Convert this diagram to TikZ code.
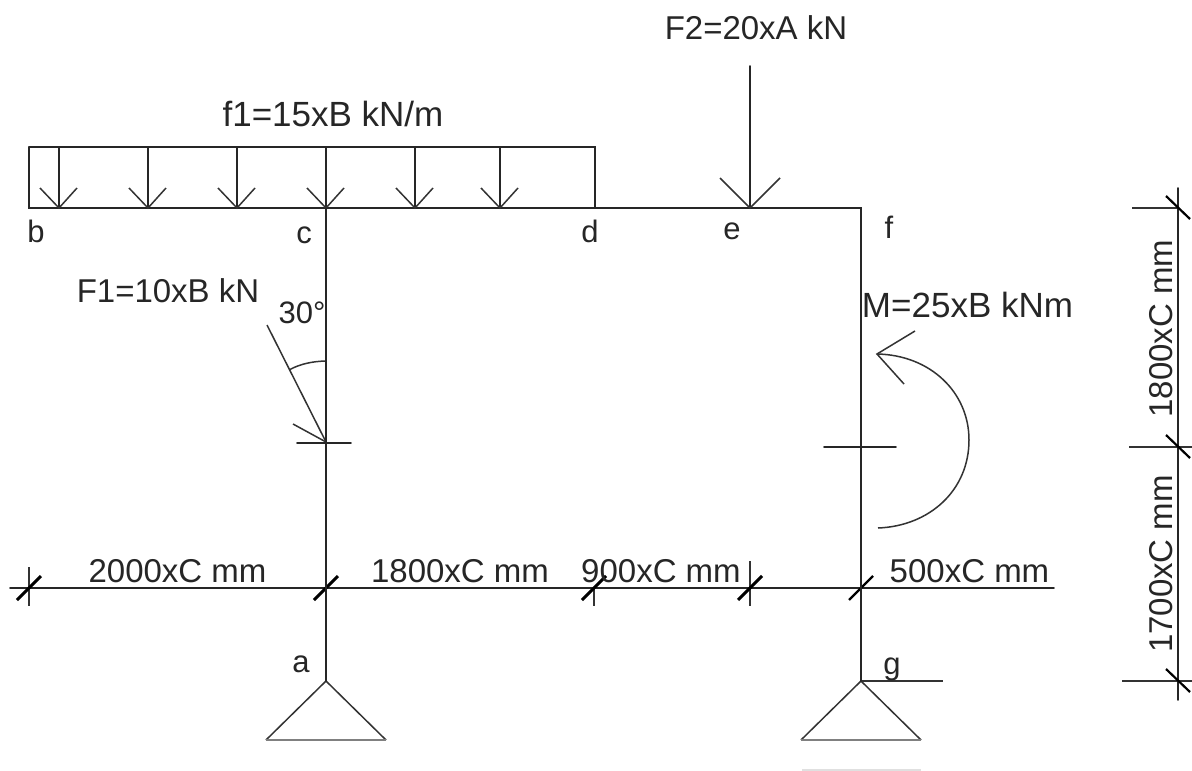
\documentclass[tikz,border=0pt]{standalone}
\usepackage{fontspec}
\setmainfont{Liberation Sans}
\tikzset{
  member/.style={draw=black!85,line width=1.9pt,line cap=round},
  thinline/.style={draw=black!80,line width=1.5pt},
  slash/.style={draw=black,line width=3pt},
  slashthin/.style={draw=black,line width=2.2pt},
  lbl/.style={font=\fontsize{33}{35}\selectfont,text=black!85,inner sep=0pt,anchor=center},
  lblbig/.style={lbl,font=\fontsize{35}{37}\selectfont},
  lblsmall/.style={lbl,font=\fontsize{31}{33}\selectfont},
  pt/.style={coordinate}
}
\begin{document}
\begin{tikzpicture}[x=1pt,y=-1pt]
\useasboundingbox (0,0) rectangle (1192,771);
\fill[white] (0,0) rectangle (1192,771);
% frame points
\coordinate (bt) at (29,147);
\coordinate (dt) at (595,147);
\coordinate (b) at (29,208);
\coordinate (c) at (326,208);
\coordinate (d) at (595,208);
\coordinate (e) at (750,208);
\coordinate (f) at (861,208);
\coordinate (a) at (326,681);
\coordinate (g) at (861,681);
\coordinate (gr) at (943,681);
% frame
\draw[member] (bt) -- (dt) -- (d);
\draw[member] (bt) -- (b) -- (f) -- (g);
\draw[member] (c) -- (a);
\draw[thinline] (g) -- (gr);
% supports
\foreach \n/\x in {sa/326,sg/861}{
  \coordinate (\n l) at (\x-60,740);
  \coordinate (\n r) at (\x+60,740);
  \coordinate (\n t) at (\x,681);
  \draw[thinline] (\n l) -- (\n t) -- (\n r);
  \draw[draw=black!50,line width=2pt] (\n l) -- (\n r);
}
% distributed load
\foreach \x in {59,148,237,326,415,500}{
  \coordinate (lt\x) at (\x,147);
  \coordinate (lb\x) at (\x,208);
  \coordinate (la\x) at (\x-19,188);
  \coordinate (lc\x) at (\x+18,188);
  \draw[member] (lt\x) -- (lb\x);
  \draw[thinline] (la\x) -- (lb\x) -- (lc\x);
}
% F2
\coordinate (f2t) at (750,66);
\coordinate (f2a) at (720,178);
\coordinate (f2b) at (780,178);
\draw[member] (f2t) -- (e);
\draw[thinline] (f2a) -- (e) -- (f2b);
% F1
\coordinate (f1s) at (267,325);
\coordinate (f1p) at (326,442);
\coordinate (f1b) at (293,424);
\coordinate (f1l) at (297,443);
\coordinate (f1r) at (351,443);
\draw[thinline] (f1s) -- (f1p);
\draw[thinline] (f1b) -- (f1p);
\draw[member] (f1l) -- (f1r);
\draw[thinline] (290,369.5) .. controls (300,364) and (312,361.5) .. (325,361);
% moment
\coordinate (mc1) at (824,447);
\coordinate (mc2) at (896,447);
\coordinate (ms) at (878,528);
\coordinate (mm) at (969,440);
\coordinate (mp) at (877,354);
\coordinate (mb1) at (915,331);
\coordinate (mb2) at (904,384);
\draw[member] (mc1) -- (mc2);
\draw[thinline] (ms) .. controls (930,526) and (969,490) .. (mm) .. controls (969,392) and (930,355) .. (mp);
\draw[thinline] (mb1) -- (mp) -- (mb2);
% horizontal dimension
\coordinate (hs) at (10,588);
\coordinate (he) at (1054,588);
\draw[member] (hs) -- (he);
\foreach \x/\top/\st in {29/567/slash,326/588/slash,594/588/slash,750/561/slash,861/588/slashthin}{
  \coordinate (ht\x) at (\x,\top);
  \coordinate (hb\x) at (\x,606);
  \coordinate (sa\x) at (\x-12,600);
  \coordinate (sb\x) at (\x+12,576);
  \draw[thinline] (ht\x) -- (hb\x);
  \draw[\st] (sa\x) -- (sb\x);
}
% redraw columns over the dimension witness stubs
\draw[member] (c) -- (a);
\draw[member] (f) -- (g);
% vertical dimension
\coordinate (vs) at (1178,188);
\coordinate (ve) at (1178,700);
\draw[member] (vs) -- (ve);
\foreach \y/\l/\r in {208/1132/1178,447/1129/1192,681/1122/1192}{
  \coordinate (wl\y) at (\l,\y);
  \coordinate (wr\y) at (\r,\y);
  \coordinate (su\y) at (1166,\y-12);
  \coordinate (sv\y) at (1190,\y+11);
  \draw[thinline] (wl\y) -- (wr\y);
  \draw[slashthin] (su\y) -- (sv\y);
}
% faint edge at the bottom
\coordinate (fa) at (802,770);
\coordinate (fb) at (921,770);
\draw[draw=black!12,line width=1.5pt] (fa) -- (fb);
% labels
\node[lbl] (lF2) at (756,28) {F2=20xA kN};
\node[lblbig] (lf1) at (333,114) {f1=15xB kN/m};
\node[lblsmall] (lb) at (36,231) {b};
\node[lblsmall] (lc) at (304,235) {c};
\node[lblsmall] (ld) at (590,231) {d};
\node[lblsmall] (le) at (732,231) {e};
\node[lblsmall] (lf) at (889,227) {f};
\node[lbl] (lF1) at (168,291) {F1=10xB kN};
\node[lblsmall] (l30) at (302,313) {30°};
\node[lblbig] (lM) at (967.5,305) {M=25xB kNm};
\node[lbl] (d1) at (177.5,571) {2000xC mm};
\node[lbl] (d2) at (460,571) {1800xC mm};
\node[lbl] (d3) at (661,571) {900xC mm};
\node[lbl] (d4) at (969.5,571) {500xC mm};
\node[lblsmall] (la) at (301,664) {a};
\node[lblsmall] (lg) at (892,669) {g};
\node[lbl,rotate=90] (d5) at (1161,328.5) {1800xC mm};
\node[lbl,rotate=90] (d6) at (1161,564) {1700xC mm};
\end{tikzpicture}
\end{document}
